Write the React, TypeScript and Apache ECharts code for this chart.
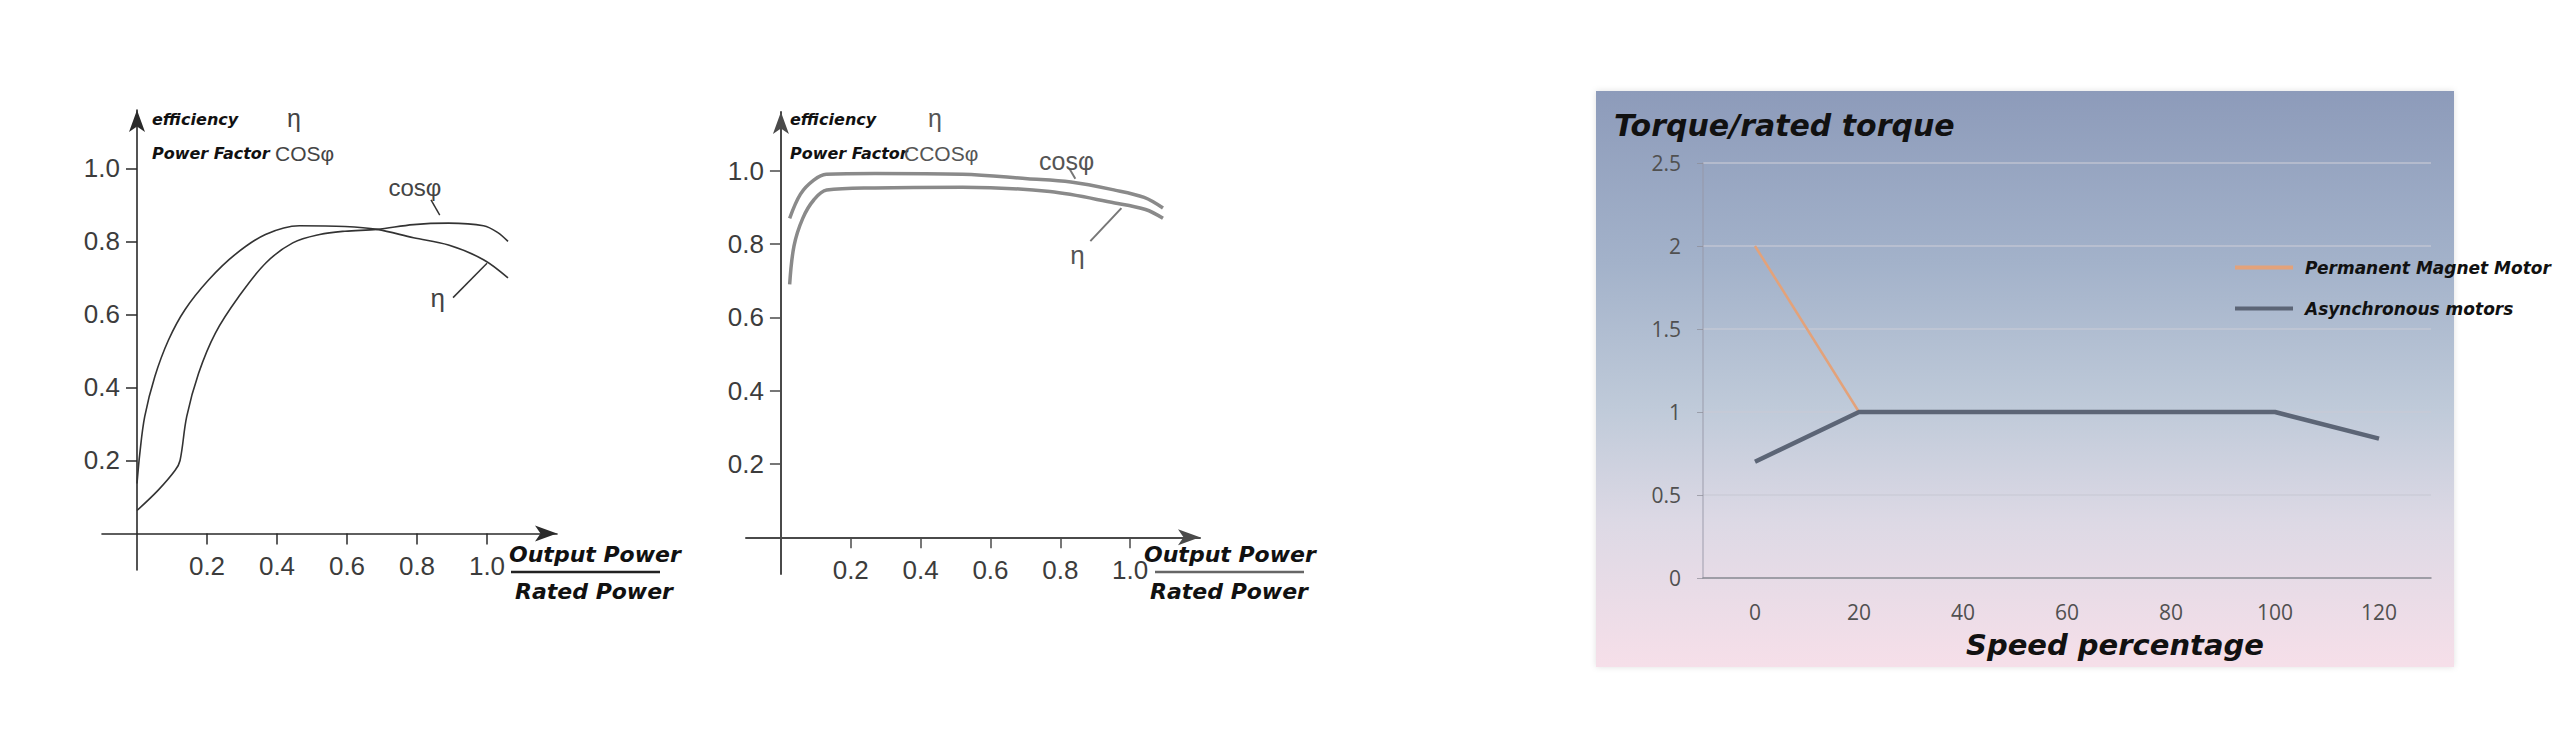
import { useEffect, useRef } from 'react';
import * as echarts from 'echarts';

// left chart: induction motor, efficiency and power factor vs load
const loadEff1 = [0, 0.008, 0.022, 0.051, 0.09, 0.137, 0.205, 0.28, 0.367, 0.464, 0.594, 0.686, 0.79, 0.89, 0.99, 1.06];
const eff1 = [0.137, 0.219, 0.32, 0.43, 0.53, 0.613, 0.695, 0.764, 0.819, 0.843, 0.841, 0.833, 0.81, 0.79, 0.75, 0.7];
const loadPf1 = [0, 0.06, 0.109, 0.123, 0.142, 0.176, 0.224, 0.291, 0.368, 0.445, 0.522, 0.594, 0.686, 0.79, 0.89, 0.99, 1.03, 1.06];
const pf1 = [0.063, 0.118, 0.173, 0.2, 0.32, 0.439, 0.549, 0.649, 0.741, 0.796, 0.819, 0.828, 0.833, 0.846, 0.85, 0.843, 0.825, 0.8];

// middle chart: permanent magnet motor
const loadPf2 = [0.025, 0.056, 0.094, 0.13, 0.27, 0.52, 0.706, 0.83, 0.956, 1.04, 1.094];
const pf2 = [0.87, 0.936, 0.974, 0.99, 0.992, 0.99, 0.978, 0.969, 0.947, 0.927, 0.898];
const loadEff2 = [0.025, 0.0375, 0.0625, 0.094, 0.131, 0.269, 0.52, 0.77, 0.956, 1.044, 1.094];
const eff2 = [0.69, 0.795, 0.87, 0.92, 0.947, 0.953, 0.955, 0.943, 0.912, 0.894, 0.87];

const loadTicks = [0.2, 0.4, 0.6, 0.8, 1.0];

// right chart: torque ratio vs speed
const speedLabels = ['0', '20', '40', '60', '80', '100', '120'];
const pmTorque = [2, 1, 1, 1, 1, 1, 0.84];
const asyncTorque = [0.7, 1, 1, 1, 1, 1, 0.84];

const pairs = (xs: number[], ys: number[]) => xs.map((x, i) => [x, ys[i]]);

const TITLE_FONT = '"DejaVu Sans"';
const NUM_FONT = '"Liberation Sans", Arial, sans-serif';

const X_MIN = -0.1;
const X_MAX = 1.2;
const Y_MIN = -0.1;
const Y_MAX = 1.16;

// grids of the two load charts; the axes are shifted in to cross at 0
const loadGrids = [
  { left: 102, top: 110, width: 455, height: 460 },
  { left: 746, top: 112, width: 454, height: 462 },
];

function loadAxes(gridIndex: number, color: string, width: number) {
  const g = loadGrids[gridIndex];
  const xShift = (g.width * (0 - X_MIN)) / (X_MAX - X_MIN);
  const yShift = (g.height * (0 - Y_MIN)) / (Y_MAX - Y_MIN);
  const label = {
    customValues: loadTicks,
    color: '#3c3c3c',
    fontFamily: NUM_FONT,
    fontSize: 26,
    formatter: (v: number) => v.toFixed(1),
  };
  const x = {
    type: 'value',
    gridIndex,
    min: X_MIN,
    max: X_MAX,
    offset: -yShift,
    axisLine: {
      onZero: false,
      symbol: ['none', 'arrow'],
      symbolSize: [12, 22],
      lineStyle: { color, width },
    },
    axisTick: { customValues: loadTicks, length: 11, lineStyle: { color, width: 1.5 } },
    axisLabel: { ...label, margin: 20 },
    splitLine: { show: false },
  };
  const y = {
    type: 'value',
    gridIndex,
    min: Y_MIN,
    max: Y_MAX,
    offset: -xShift,
    axisLine: {
      show: true,
      onZero: false,
      symbol: ['none', 'arrow'],
      symbolSize: [12, 22],
      lineStyle: { color, width },
    },
    axisTick: { show: true, customValues: loadTicks, length: 11, lineStyle: { color, width: 1.5 } },
    axisLabel: { ...label, margin: 17 },
    splitLine: { show: false },
  };
  return { x, y };
}

function curveLabel(text: string, coord: number[], size: number, color: string) {
  return {
    coord,
    symbol: 'circle',
    symbolSize: 1,
    itemStyle: { color: 'rgba(0,0,0,0)' },
    label: {
      show: true,
      position: 'inside',
      formatter: text,
      color,
      fontFamily: NUM_FONT,
      fontSize: size,
    },
  };
}

function leader(a: number[], b: number[]) {
  return [{ coord: a }, { coord: b }];
}

function headerTexts(left: number, etaX: number, cosLeft: number, cosText: string, color: string) {
  const bold = (size: number) => `italic bold ${size}px ${TITLE_FONT}`;
  return [
    { type: 'text', x: left, y: 119, style: { text: 'efficiency', font: bold(16), fill: '#111', textVerticalAlign: 'middle' } },
    { type: 'text', x: etaX, y: 118, style: { text: 'η', font: `25px ${NUM_FONT}`, fill: color, textAlign: 'center', textVerticalAlign: 'middle' } },
    { type: 'text', x: left, y: 153, style: { text: 'Power Factor', font: bold(16), fill: '#111', textVerticalAlign: 'middle' } },
    { type: 'text', x: cosLeft, y: 153, style: { text: cosText, font: `21px ${NUM_FONT}`, fill: color, textVerticalAlign: 'middle' } },
  ];
}

function ratioTexts(left: number, barLeft: number, barRight: number, barColor: string) {
  const bold = `italic bold 22px ${TITLE_FONT}`;
  return [
    { type: 'text', x: left, y: 554, style: { text: 'Output Power', font: bold, fill: '#111', textVerticalAlign: 'middle' } },
    { type: 'line', shape: { x1: barLeft, y1: 572, x2: barRight, y2: 572 }, style: { stroke: barColor, lineWidth: 2.5 } },
    { type: 'text', x: left + 6, y: 591, style: { text: 'Rated Power', font: bold, fill: '#111', textVerticalAlign: 'middle' } },
  ];
}

export default function App() {
  const chartRef = useRef<HTMLDivElement | null>(null);

  useEffect(() => {
    document.body.style.margin = '0';
    if (!chartRef.current) return;

    const chart = echarts.init(chartRef.current, undefined, { renderer: 'svg' });
    const a1 = loadAxes(0, '#2a2a2a', 1.6);
    const a2 = loadAxes(1, '#4a4a4a', 2);

    chart.setOption({
      animation: false,
      backgroundColor: '#ffffff',
      grid: [...loadGrids, { left: 1703, top: 163, width: 728, height: 415 }],
      xAxis: [
        a1.x,
        a2.x,
        {
          type: 'category',
          gridIndex: 2,
          data: speedLabels,
          boundaryGap: true,
          axisLine: { lineStyle: { color: '#8c8c94', width: 1.5 } },
          axisTick: { length: 6, lineStyle: { color: '#8c8c94' } },
          axisLabel: { margin: 23, color: '#505050', fontFamily: '"Open Sans"', fontSize: 21 },
        },
      ],
      yAxis: [
        a1.y,
        a2.y,
        {
          type: 'value',
          gridIndex: 2,
          min: 0,
          max: 2.5,
          interval: 0.5,
          axisLine: { show: true, lineStyle: { color: 'rgba(150,150,165,0.6)', width: 1.5 } },
          axisTick: { show: true, length: 6, lineStyle: { color: 'rgba(140,140,150,0.7)' } },
          axisLabel: { margin: 22, color: '#505050', fontFamily: '"Open Sans"', fontSize: 21 },
          splitLine: { lineStyle: { color: 'rgba(200,202,214,0.8)', width: 1.5 } },
        },
      ],
      legend: {
        data: ['Permanent Magnet Motor', 'Asynchronous motors'],
        orient: 'vertical',
        left: 2230,
        top: 254,
        itemWidth: 58,
        itemHeight: 4,
        itemGap: 24,
        icon: 'rect',
        textStyle: {
          color: '#111',
          fontFamily: TITLE_FONT,
          fontStyle: 'italic',
          fontWeight: 'bold',
          fontSize: 17,
          padding: [0, 0, 0, 7],
        },
      },
      series: [
        {
          name: 'eta1',
          type: 'line',
          xAxisIndex: 0,
          yAxisIndex: 0,
          data: pairs(loadEff1, eff1),
          smooth: 0.35,
          showSymbol: false,
          lineStyle: { color: '#333', width: 1.6 },
          markLine: {
            silent: true,
            symbol: 'none',
            label: { show: false },
            lineStyle: { color: '#333', width: 1.5, type: 'solid' },
            data: [leader([0.84, 0.914], [0.865, 0.872]), leader([0.903, 0.646], [1.0, 0.74])],
          },
          markPoint: {
            silent: true,
            data: [curveLabel('cosφ', [0.794, 0.948], 24, '#444'), curveLabel('η', [0.859, 0.646], 26, '#444')],
          },
        },
        {
          name: 'pf1',
          type: 'line',
          xAxisIndex: 0,
          yAxisIndex: 0,
          data: pairs(loadPf1, pf1),
          smooth: 0.35,
          showSymbol: false,
          lineStyle: { color: '#333', width: 1.6 },
        },
        {
          name: 'pf2',
          type: 'line',
          xAxisIndex: 1,
          yAxisIndex: 1,
          data: pairs(loadPf2, pf2),
          smooth: 0.35,
          showSymbol: false,
          lineStyle: { color: '#8a8a8a', width: 3.5 },
          markLine: {
            silent: true,
            symbol: 'none',
            label: { show: false },
            lineStyle: { color: '#777', width: 2, type: 'solid' },
            data: [leader([0.825, 1.007], [0.843, 0.978]), leader([0.886, 0.808], [0.975, 0.898])],
          },
          markPoint: {
            silent: true,
            data: [curveLabel('cosφ', [0.818, 1.026], 25, '#555'), curveLabel('η', [0.849, 0.77], 26, '#555')],
          },
        },
        {
          name: 'eta2',
          type: 'line',
          xAxisIndex: 1,
          yAxisIndex: 1,
          data: pairs(loadEff2, eff2),
          smooth: 0.35,
          showSymbol: false,
          lineStyle: { color: '#8a8a8a', width: 3.5 },
        },
        {
          name: 'Permanent Magnet Motor',
          type: 'line',
          xAxisIndex: 2,
          yAxisIndex: 2,
          data: pmTorque,
          showSymbol: false,
          itemStyle: { color: '#e3a27a' },
          lineStyle: { color: '#e3a27a', width: 2.5 },
        },
        {
          name: 'Asynchronous motors',
          type: 'line',
          xAxisIndex: 2,
          yAxisIndex: 2,
          data: asyncTorque,
          showSymbol: false,
          itemStyle: { color: '#5c6576' },
          lineStyle: { color: '#5c6576', width: 4.5 },
        },
      ],
      graphic: [
        {
          type: 'rect',
          z: -10,
          shape: { x: 1596, y: 91, width: 858, height: 576 },
          style: {
            fill: {
              type: 'linear',
              x: 0,
              y: 0,
              x2: 0,
              y2: 1,
              colorStops: [
                { offset: 0, color: '#8d9bba' },
                { offset: 0.3, color: '#a3b2ca' },
                { offset: 0.55, color: '#bfcad9' },
                { offset: 0.75, color: '#ddd9e5' },
                { offset: 1, color: '#f6dfe9' },
              ],
            },
            shadowBlur: 6,
            shadowColor: 'rgba(0,0,0,0.12)',
          },
        },
        ...headerTexts(152, 294, 275, 'COSφ', '#444'),
        ...ratioTexts(509, 511, 660, '#222'),
        ...headerTexts(790, 935, 904, 'CCOSφ', '#555'),
        ...ratioTexts(1144, 1155, 1304, '#666'),
        {
          type: 'text',
          x: 1614,
          y: 125,
          style: { text: 'Torque/rated torque', font: `italic bold 30px ${TITLE_FONT}`, fill: '#111', textVerticalAlign: 'middle' },
        },
        {
          type: 'text',
          x: 1966,
          y: 645,
          style: { text: 'Speed percentage', font: `italic bold 29px ${TITLE_FONT}`, fill: '#111', textVerticalAlign: 'middle' },
        },
      ],
    });

    return () => {
      chart.dispose();
    };
  }, []);

  return <div ref={chartRef} style={{ width: 2560, height: 745 }} />;
}
